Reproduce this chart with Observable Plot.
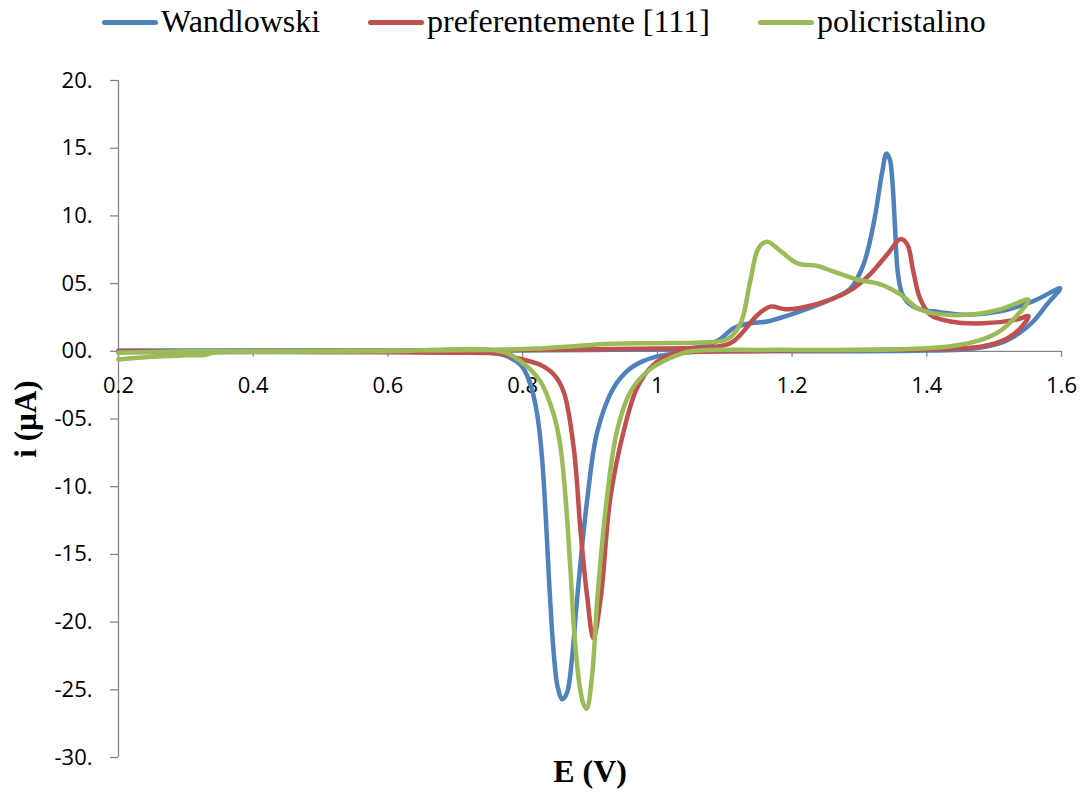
<!DOCTYPE html>
<html>
<head>
<meta charset="utf-8">
<script src="https://cdn.jsdelivr.net/npm/d3@7"></script>
<script src="https://cdn.jsdelivr.net/npm/@observablehq/plot@0.6"></script>
<style>
  html, body { margin: 0; padding: 0; background: #fff; }
  #wrap { position: relative; width: 1083px; height: 798px; overflow: hidden; }
  #legend { position: absolute; left: 0; top: 0; width: 1083px; height: 45px; font-family: "Liberation Serif", "Times New Roman", serif; font-size: 32px; color: #000; }
  .sw { position: absolute; top: 20px; width: 56px; height: 5px; border-radius: 3px; }
  .lt { position: absolute; top: 5px; line-height: 32px; white-space: nowrap; }
  #chart { position: absolute; left: 0; top: 45px; }
</style>
</head>
<body>
<div id="wrap">
  <div id="legend"></div>
  <div id="chart"></div>
</div>
<script>
// ---- Data ----
const seriesNames = ["Wandlowski", "preferentemente [111]", "policristalino"];
const seriesColors = ["#4F81BD", "#C0504D", "#9BBB59"];

// Wandlowski (blue): anodic sweep then cathodic sweep
const wandE = [0.20,0.30,0.50,0.70,0.90,1.00,1.06,1.09,1.113,1.138,1.163,1.212,1.261,1.287,1.306,1.321,1.334,1.340,1.345,1.349,1.353,1.357,1.363,1.372,1.39,1.41,1.46,1.509,1.558,1.598,
               1.579,1.558,1.535,1.509,1.46,1.40,1.30,1.20,1.10,1.05,1.02,1.00,0.98,0.96,0.935,0.911,0.896,0.881,0.873,0.866,0.859,0.852,0.846,0.841,0.837,0.833,0.829,0.824,0.818,0.810,0.797,0.767,0.737,0.60,0.40,0.20];
const wandI = [0.05,0.05,0.05,0.05,0.1,0.15,0.3,0.8,1.7,2.07,2.2,2.95,3.9,4.65,6.4,9.4,13.3,14.6,14.2,12.5,9.0,5.8,4.3,3.6,3.1,2.95,2.7,2.95,3.7,4.65,
               3.5,2.2,1.26,0.6,0.15,0.05,0.0,0.0,0.0,-0.05,-0.2,-0.37,-0.7,-1.26,-2.7,-5.9,-10.9,-18.2,-22.8,-25.2,-25.7,-24.8,-22.2,-18.5,-14.8,-11.0,-8.0,-5.5,-3.7,-2.2,-1.0,-0.2,-0.1,-0.05,-0.05,-0.05];

// preferentemente [111] (red)
const prefE = [0.20,0.40,0.60,0.80,0.90,1.00,1.08,1.10,1.113,1.128,1.149,1.168,1.19,1.212,1.261,1.291,1.316,1.342,1.361,1.371,1.38,1.39,1.405,1.435,1.484,1.535,1.551,
               1.539,1.52,1.484,1.41,1.30,1.20,1.10,1.05,1.024,0.994,0.97,0.95,0.93,0.916,0.905,0.896,0.886,0.876,0.861,0.846,0.826,0.792,0.767,0.70,0.50,0.30,0.20];
const prefI = [0.0,0.02,0.05,0.1,0.15,0.2,0.3,0.45,0.74,1.48,2.7,3.3,3.1,3.2,3.9,4.65,5.7,7.2,8.3,7.9,5.9,3.9,2.7,2.2,2.07,2.36,2.6,
               1.7,0.96,0.37,0.15,0.1,0.05,0.0,-0.05,-0.2,-1.0,-2.7,-5.9,-10.9,-18.2,-21.2,-18.2,-13.3,-7.2,-3.0,-1.7,-1.0,-0.5,-0.2,-0.1,-0.05,0.0,0.0];

// policristalino (green)
const polyE = [0.20,0.25,0.30,0.40,0.60,0.75,0.82,0.88,0.93,1.00,1.064,1.104,1.123,1.138,1.150,1.163,1.183,1.208,1.238,1.261,1.297,1.331,1.361,1.386,1.41,1.46,1.509,1.551,
               1.535,1.509,1.484,1.435,1.361,1.261,1.15,1.05,1.019,0.985,0.96,0.94,0.925,0.911,0.903,0.895,0.890,0.884,0.877,0.871,0.864,0.856,0.846,0.826,0.797,0.767,0.60,0.40,0.34,0.33,0.30,0.25,0.20];
const polyI = [-0.1,-0.05,0.0,0.0,0.05,0.1,0.2,0.4,0.55,0.6,0.65,0.9,2.0,5.2,7.6,8.1,7.4,6.5,6.3,5.9,5.3,4.95,4.2,3.2,2.8,2.7,3.1,3.8,
               2.7,1.5,0.9,0.37,0.15,0.1,0.1,0.0,-0.5,-1.5,-3.0,-5.9,-10.9,-18.2,-24.0,-26.4,-26.0,-24.5,-21.0,-16.2,-11.0,-7.0,-4.65,-2.2,-0.74,0.0,0.0,-0.05,-0.1,-0.25,-0.3,-0.4,-0.6];

const xTicks = [0.2,0.4,0.6,0.8,1.0,1.2,1.4,1.6];
const xTickLabels = ["0.2","0.4","0.6","0.8","1","1.2","1.4","1.6"];
const yTicks = [20,15,10,5,0,-5,-10,-15,-20,-25,-30];
const yTickLabels = ["20.","15.","10.","05.","00.","-05.","-10.","-15.","-20.","-25.","-30."];
const xTitle = "E (V)";
const yTitle = "i (µA)";

// ---- Build rows ----
const toRows = (Es, Is) => Es.map((E, k) => ({E, i: Is[k]}));
const seriesRows = [toRows(wandE, wandI), toRows(prefE, prefI), toRows(polyE, polyI)];
const yLabelMap = new Map(yTicks.map((t, k) => [t, yTickLabels[k]]));
const axisGray = "#868686";

// ---- Legend ----
const legend = document.getElementById("legend");
const legendPos = [102, 368, 758];
seriesNames.forEach((name, k) => {
  const sw = document.createElement("div");
  sw.className = "sw";
  sw.style.left = legendPos[k] + "px";
  sw.style.background = seriesColors[k];
  legend.appendChild(sw);
  const t = document.createElement("span");
  t.className = "lt";
  t.style.left = (legendPos[k] + 59) + "px";
  t.textContent = name;
  legend.appendChild(t);
});

// ---- Chart ----
const lineMarks = seriesRows.map((rows, k) =>
  Plot.line(rows, {x: "E", y: "i", stroke: seriesColors[k], strokeWidth: 4.5,
                   curve: "catmull-rom", strokeLinejoin: "round", strokeLinecap: "round"}));

const chart = Plot.plot({
  width: 1083,
  height: 753,
  marginLeft: 118,
  marginRight: 22,
  marginTop: 35,
  marginBottom: 41,
  style: {fontFamily: "'Open Sans', sans-serif", fontSize: "22px", color: "#000", background: "#fff", overflow: "visible"},
  x: {domain: [0.2, 1.6], axis: null},
  y: {domain: [-30, 20], axis: null},
  marks: [
    Plot.ruleX([0.2], {stroke: axisGray, strokeWidth: 1.3}),
    Plot.ruleY([0], {stroke: axisGray, strokeWidth: 1.3}),
    Plot.ruleX(xTicks, {x: d => d, y1: 0, y2: 0, insetBottom: -6, stroke: axisGray, strokeWidth: 1.3}),
    Plot.axisY(yTicks, {tickSize: 8, tickPadding: 18, tickFormat: d => yLabelMap.get(d),
                        stroke: axisGray, strokeWidth: 1.3, fill: "#000", fontSize: 22, label: null}),
    Plot.text(xTicks, {x: d => d, y: 0, dy: 35, text: (d, k) => xTickLabels[k], fontSize: 22, fill: "#000"}),
    Plot.text([xTitle], {frameAnchor: "bottom", dy: 24, fontFamily: "'Liberation Serif', serif",
                         fontWeight: "bold", fontSize: 32, fill: "#000"}),
    Plot.text([yTitle], {frameAnchor: "left", textAnchor: "middle", dx: -92, rotate: -90, fontFamily: "'Liberation Serif', serif",
                         fontWeight: "bold", fontSize: 31, fill: "#000"}),
    ...lineMarks
  ]
});
document.getElementById("chart").appendChild(chart);
</script>
</body>
</html>
